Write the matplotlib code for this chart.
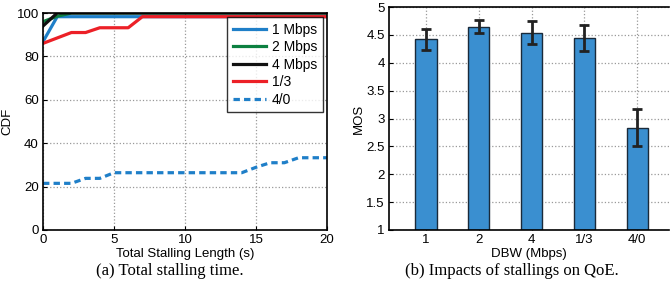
import matplotlib
matplotlib.use("Agg")
import matplotlib.pyplot as plt
import numpy as np

plt.rcParams['font.family'] = ['Liberation Sans', 'DejaVu Sans']

# (a) CDF of total stalling length
x_1m = [0, 1, 20]
y_1m = [86.8, 98.3, 98.3]
x_2m = [0, 1, 2, 20]
y_2m = [96, 98.5, 100, 100]
x_4m = [0, 0.5, 1, 20]
y_4m = [94, 97, 100, 100]
x_13 = [0, 1, 2, 3, 4, 5, 6, 7, 20]
y_13 = [86, 88.5, 91, 91, 93.2, 93.2, 93.2, 98.3, 98.3]
x_40 = [0, 1, 2, 3, 4, 5, 6, 10, 14, 15, 16, 17, 18, 19, 20]
y_40 = [21.5, 21.5, 21.5, 23.8, 23.8, 26.4, 26.4, 26.4, 26.4, 28.9, 31.0, 31.0, 33.3, 33.3, 33.3]

# (b) MOS per DBW
groups = ['1', '2', '4', '1/3', '4/0']
mos = [4.42, 4.65, 4.54, 4.45, 2.83]
mos_lo = [4.23, 4.53, 4.34, 4.21, 2.50]
mos_hi = [4.60, 4.77, 4.74, 4.68, 3.17]

W, H = 670, 288
fig = plt.figure(figsize=(W / 100, H / 100), dpi=100)

ax1 = fig.add_axes([43 / W, (H - 230) / H, (327 - 43) / W, (230 - 13) / H])
lw = 2.3
ax1.plot(x_1m, y_1m, color='#1f7fc8', lw=lw, label='1 Mbps')
ax1.plot(x_2m, y_2m, color='#0c8040', lw=lw, label='2 Mbps')
ax1.plot(x_4m, y_4m, color='#111111', lw=lw, label='4 Mbps')
ax1.plot(x_13, y_13, color='#ec2027', lw=lw, label='1/3')
ax1.plot(x_40, y_40, color='#1f7fc8', lw=lw, ls=(0, (2.0, 1.3)), label='4/0')
ax1.set_xlim(0, 20)
ax1.set_ylim(0, 100)
ax1.set_xticks([0, 5, 10, 15, 20])
ax1.set_yticks([0, 20, 40, 60, 80, 100])
ax1.grid(True, ls=':', color='#999999', lw=0.9)
ax1.set_xlabel('Total Stalling Length (s)', fontsize=9.5, labelpad=1)
ax1.set_ylabel('CDF', fontsize=9.5, labelpad=2)
leg = ax1.legend(loc='upper right', fontsize=10, frameon=True, fancybox=False,
                 borderaxespad=0.3, handlelength=2.4, labelspacing=0.25,
                 borderpad=0.4, handletextpad=0.4)
leg.get_frame().set_edgecolor('black')
leg.get_frame().set_linewidth(1.0)

ax2 = fig.add_axes([389 / W, (H - 230) / H, (669 - 389) / W, (230 - 7) / H])
pos = np.arange(1, len(groups) + 1)
err = [np.array(mos) - np.array(mos_lo), np.array(mos_hi) - np.array(mos)]
ax2.bar(pos, np.array(mos) - 1, bottom=1, width=0.4, color='#3a8fd0',
        edgecolor='#1a2a3a', linewidth=1.0, zorder=2)
ax2.errorbar(pos, mos, yerr=err, fmt='none', ecolor='#222222', elinewidth=2.0,
             capsize=3.6, capthick=2.0, zorder=3)
ax2.set_xlim(0.3, 5.6)
ax2.set_ylim(1, 5)
ax2.set_xticks(pos)
ax2.set_xticklabels(groups)
ax2.set_yticks(np.arange(1, 5.01, 0.5))
ax2.set_yticklabels(['1', '1.5', '2', '2.5', '3', '3.5', '4', '4.5', '5'])
ax2.grid(True, ls=':', color='#999999', lw=0.9, zorder=0)
ax2.set_axisbelow(True)
ax2.spines['right'].set_visible(False)
ax2.set_xlabel('DBW (Mbps)', fontsize=9.5, labelpad=1)
ax2.set_ylabel('MOS', fontsize=9.5, labelpad=1)

for ax in (ax1, ax2):
    ax.tick_params(direction='in', labelsize=9.5, length=3, width=0.8, pad=3)
    for s in ax.spines.values():
        s.set_linewidth(1.2)

fig.text(170 / W, 1 - 271 / H, '(a) Total stalling time.', ha='center', va='center',
         fontsize=12, family=['Liberation Serif', 'DejaVu Serif'])
fig.text(512 / W, 1 - 271 / H, '(b) Impacts of stallings on QoE.', ha='center', va='center',
         fontsize=12, family=['Liberation Serif', 'DejaVu Serif'])

fig.savefig('out.png', dpi=100)
